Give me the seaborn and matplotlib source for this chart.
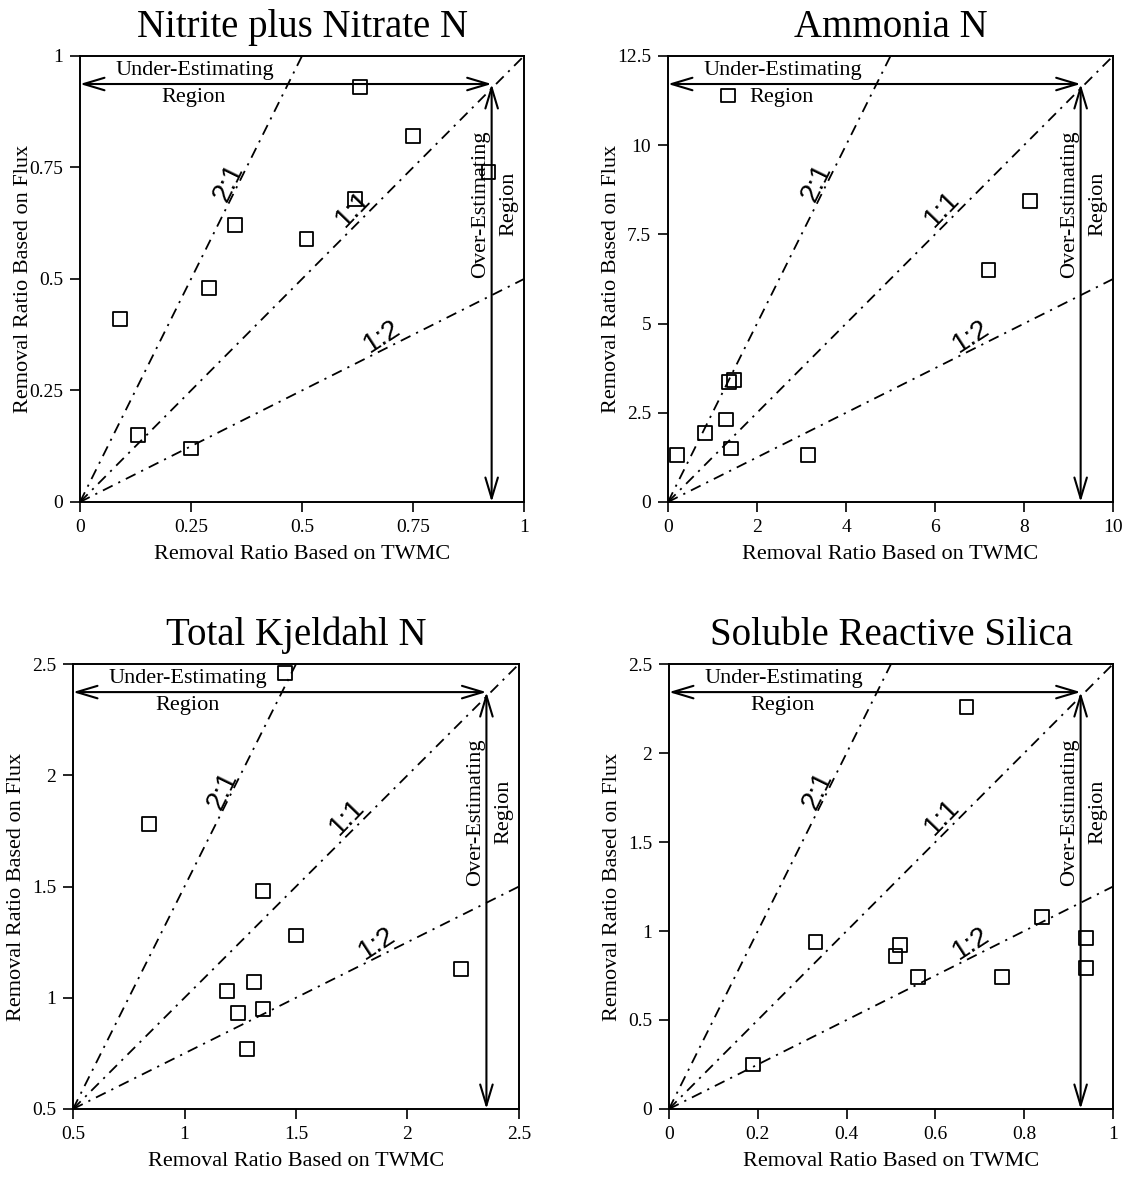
import numpy as np
import pandas as pd
import matplotlib
matplotlib.use('Agg')
import matplotlib.pyplot as plt
import seaborn as sns

# removal ratios (x = TWMC based, y = flux based)
nitrate_twmc = [0.09, 0.13, 0.25, 0.29, 0.35, 0.51, 0.62, 0.63, 0.75, 0.92]
nitrate_flux = [0.41, 0.15, 0.12, 0.48, 0.62, 0.59, 0.68, 0.93, 0.82, 0.74]

ammonia_twmc = [0.21, 0.84, 1.30, 1.37, 1.41, 1.49, 1.35, 3.15, 7.20, 8.14]
ammonia_flux = [1.31, 1.93, 2.31, 3.35, 1.50, 3.43, 11.39, 1.31, 6.49, 8.43]

tkn_twmc = [1.45, 0.84, 1.35, 1.50, 2.24, 1.31, 1.19, 1.24, 1.35, 1.28]
tkn_flux = [2.46, 1.78, 1.48, 1.28, 1.13, 1.07, 1.03, 0.93, 0.95, 0.77]

silica_twmc = [0.67, 0.33, 0.52, 0.51, 0.56, 0.75, 0.84, 0.94, 0.94, 0.19]
silica_flux = [2.26, 0.94, 0.92, 0.86, 0.74, 0.74, 1.08, 0.96, 0.79, 0.25]

titles = ['Nitrite plus Nitrate N', 'Ammonia N', 'Total Kjeldahl N', 'Soluble Reactive Silica']
xlims = [(0, 1), (0, 10), (0.5, 2.5), (0, 1)]
ylims = [(0, 1), (0, 12.5), (0.5, 2.5), (0, 2.5)]
xticks = [[0, 0.25, 0.5, 0.75, 1], [0, 2, 4, 6, 8, 10], [0.5, 1, 1.5, 2, 2.5], [0, 0.2, 0.4, 0.6, 0.8, 1]]
xticklabels = [['0', '0.25', '0.5', '0.75', '1'], ['0', '2', '4', '6', '8', '10'],
               ['0.5', '1', '1.5', '2', '2.5'], ['0', '0.2', '0.4', '0.6', '0.8', '1']]
yticks = [[0, 0.25, 0.5, 0.75, 1], [0, 2.5, 5, 7.5, 10, 12.5], [0.5, 1, 1.5, 2, 2.5], [0, 0.5, 1, 1.5, 2, 2.5]]
yticklabels = [['0', '0.25', '0.5', '0.75', '1'], ['0', '2.5', '5', '7.5', '10', '12.5'],
               ['0.5', '1', '1.5', '2', '2.5'], ['0', '0.5', '1', '1.5', '2', '2.5']]
ratios = [2, 1, 0.5]
ratio_labels = ['2:1', '1:1', '1:2']

data = [(nitrate_twmc, nitrate_flux), (ammonia_twmc, ammonia_flux),
        (tkn_twmc, tkn_flux), (silica_twmc, silica_flux)]

sns.set_style('ticks')
plt.rcParams['font.family'] = ['Liberation Serif', 'DejaVu Serif']
for k in ['text.color', 'axes.labelcolor', 'xtick.color', 'ytick.color', 'axes.edgecolor']:
    plt.rcParams[k] = 'black'
plt.rcParams['axes.linewidth'] = 1.4
plt.rcParams['xtick.major.size'] = 7
plt.rcParams['ytick.major.size'] = 7
plt.rcParams['xtick.major.width'] = 1.2
plt.rcParams['ytick.major.width'] = 1.2
plt.rcParams['xtick.major.pad'] = 5
plt.rcParams['ytick.major.pad'] = 5

fig = plt.figure(figsize=(11.27, 11.77), dpi=100)
boxes = [[0.0710, 0.5735, 0.394, 0.379], [0.5927, 0.5735, 0.395, 0.379],
         [0.0648, 0.0578, 0.3957, 0.378], [0.5936, 0.0578, 0.394, 0.378]]

label_pos = [(0.335, 0.716, 64), (0.616, 0.656, 46), (0.681, 0.371, 33)]
ax_arrow, ay_arrow = 0.927, 0.937

for i in range(4):
    ax = fig.add_axes(boxes[i])
    x0, x1 = xlims[i]
    y0, y1 = ylims[i]
    df = pd.DataFrame({'twmc': data[i][0], 'flux': data[i][1]})

    # ratio lines, drawn in axes-fraction space of the panel
    for r in ratios:
        fx = np.array([0, min(1, 1 / r)])
        fy = fx * r
        ax.plot(x0 + fx * (x1 - x0), y0 + fy * (y1 - y0), color='black', lw=1.3,
                linestyle=(0, (6, 3.5, 1.2, 3.5)))

    sns.scatterplot(data=df, x='twmc', y='flux', marker='s', s=100, facecolor='none',
                    edgecolor='black', linewidth=1.3, ax=ax, zorder=3)

    for (lx, ly, rot), lab in zip(label_pos, ratio_labels):
        ax.text(lx, ly, lab, transform=ax.transAxes, rotation=rot, ha='center', va='center',
                fontsize=20, family=['Liberation Sans', 'DejaVu Sans'])

    # region arrows
    ax.annotate('', xy=(0, ay_arrow), xytext=(ax_arrow, ay_arrow), xycoords='axes fraction',
                arrowprops=dict(arrowstyle='<->,head_length=1.5,head_width=0.45', lw=1.5,
                                color='black', shrinkA=0, shrinkB=0))
    ax.annotate('', xy=(ax_arrow, 0), xytext=(ax_arrow, ay_arrow), xycoords='axes fraction',
                arrowprops=dict(arrowstyle='<->,head_length=1.5,head_width=0.45', lw=1.5,
                                color='black', shrinkA=0, shrinkB=0))
    ax.text(0.258, 0.957, 'Under-Estimating', transform=ax.transAxes, ha='center', va='baseline', fontsize=16)
    ax.text(0.256, 0.896, 'Region', transform=ax.transAxes, ha='center', va='baseline', fontsize=16)
    ax.text(0.903, 0.668, 'Over-Estimating', transform=ax.transAxes, rotation=90, ha='center', va='center', fontsize=16)
    ax.text(0.965, 0.668, 'Region', transform=ax.transAxes, rotation=90, ha='center', va='center', fontsize=16)

    ax.set_xlim(x0, x1)
    ax.set_ylim(y0, y1)
    ax.set_xticks(xticks[i])
    ax.set_xticklabels(xticklabels[i], fontsize=14)
    ax.set_yticks(yticks[i])
    ax.set_yticklabels(yticklabels[i], fontsize=14)
    for s in ax.spines.values():
        s.set_visible(True)

    ax.set_title(titles[i], fontsize=28, pad=13.5)
    ax.set_xlabel('Removal Ratio Based on TWMC', fontsize=16)
    ax.set_ylabel('Removal Ratio Based on Flux', fontsize=16)
    ax.xaxis.label.set_va('center')
    ax.yaxis.label.set_va('center')
    ax.xaxis.set_label_coords(0.5, -0.117)
    ax.yaxis.set_label_coords(-0.127, 0.5)

fig.savefig('out.png', dpi=100)
